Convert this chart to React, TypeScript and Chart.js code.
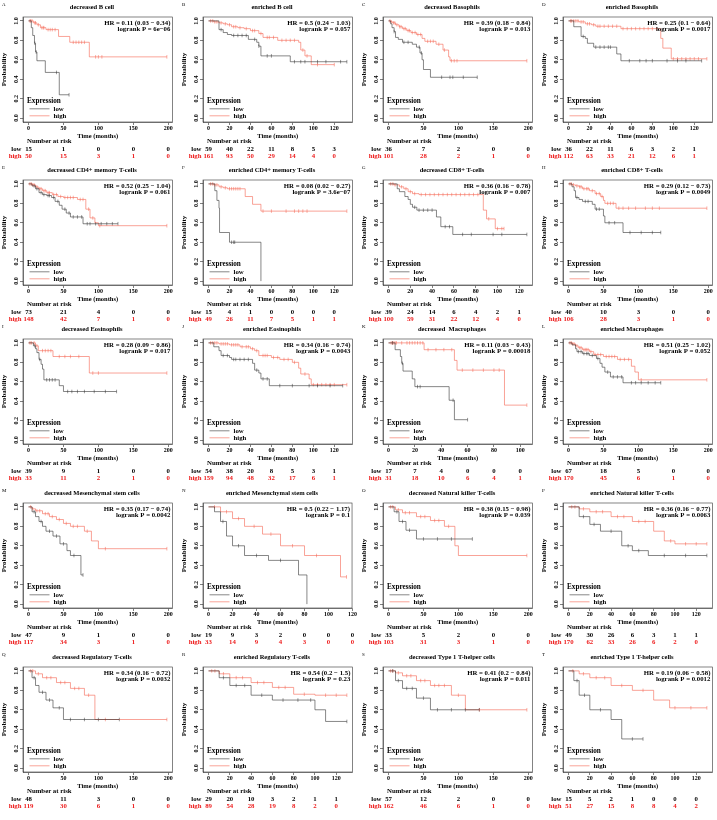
import React, { useEffect, useRef } from "react";
import { Chart, registerables } from "chart.js";
Chart.register(...registerables);

type Pt = [number, number];

// ---------- text ----------
const LETTERS = "ABCDEFGHIJKLMNOPQRST".split("");
const TITLES = [
  "decreased B cell", "enriched B cell", "decreased Basophils", "enriched Basophils",
  "decreased CD4+ memory T-cells", "enriched CD4+ memory T-cells", "decreased CD8+ T-cells", "enriched CD8+ T-cells",
  "decreased Eosinophils", "enriched Eosinophils", "decreased  Macrophages", "enriched Macrophages",
  "decreased Mesenchymal stem cells", "enriched Mesenchymal stem cells", "decreased Natural killer T-cells", "enriched Natural killer T-cells",
  "decreased Regulatory T-cells", "enriched Regulatory T-cells", "decreased Type 1 T-helper cells", "enriched Type 1 T-helper cells",
];
const HR_LABELS = [
  "HR = 0.11 (0.03 − 0.34)", "HR = 0.5 (0.24 − 1.03)", "HR = 0.39 (0.18 − 0.84)", "HR = 0.25 (0.1 − 0.64)",
  "HR = 0.52 (0.25 − 1.04)", "HR = 0.08 (0.02 − 0.27)", "HR = 0.36 (0.16 − 0.78)", "HR = 0.29 (0.12 − 0.73)",
  "HR = 0.28 (0.09 − 0.86)", "HR = 0.34 (0.16 − 0.74)", "HR = 0.11 (0.03 − 0.43)", "HR = 0.51 (0.25 − 1.02)",
  "HR = 0.35 (0.17 − 0.74)", "HR = 0.5 (0.22 − 1.17)", "HR = 0.38 (0.15 − 0.98)", "HR = 0.36 (0.16 − 0.77)",
  "HR = 0.34 (0.16 − 0.72)", "HR = 0.54 (0.2 − 1.5)", "HR = 0.41 (0.2 − 0.84)", "HR = 0.19 (0.06 − 0.58)",
];
const P_LABELS = [
  "logrank P = 6e−06", "logrank P = 0.057", "logrank P = 0.013", "logrank P = 0.0017",
  "logrank P = 0.061", "logrank P = 3.6e−07", "logrank P = 0.007", "logrank P = 0.0049",
  "logrank P = 0.017", "logrank P = 0.0043", "logrank P = 0.00018", "logrank P = 0.052",
  "logrank P = 0.0042", "logrank P = 0.1", "logrank P = 0.039", "logrank P = 0.0063",
  "logrank P = 0.0032", "logrank P = 0.23", "logrank P = 0.011", "logrank P = 0.0012",
];

// ---------- axis ticks ----------
const TICKS_200 = [0, 50, 100, 150, 200];
const TICKS_120 = [0, 20, 40, 60, 80, 100, 120];
const TICKS_100 = [0, 20, 40, 60, 80, 100];
const Y_TICKS = [0, 0.2, 0.4, 0.6, 0.8, 1.0];
const X_TICKS = [
  TICKS_200, TICKS_120, TICKS_200, TICKS_120,
  TICKS_200, TICKS_120, TICKS_120, TICKS_200,
  TICKS_200, TICKS_120, TICKS_100, TICKS_200,
  TICKS_200, TICKS_120, TICKS_200, TICKS_120,
  TICKS_200, TICKS_120, TICKS_200, TICKS_120,
];

// ---------- number at risk ----------
const RISK_LOW = [
  [15, 1, 0, 0, 0], [59, 40, 22, 11, 8, 5, 3], [36, 7, 2, 0, 0], [36, 22, 11, 6, 3, 2, 1],
  [73, 21, 4, 0, 0], [15, 4, 1, 0, 0, 0, 0], [39, 24, 14, 6, 4, 2, 1], [40, 10, 3, 0, 0],
  [39, 9, 1, 0, 0], [54, 38, 20, 8, 5, 3, 1], [17, 7, 4, 0, 0, 0], [67, 18, 5, 0, 0],
  [47, 9, 1, 0, 0], [19, 9, 3, 2, 0, 0, 0], [33, 5, 2, 0, 0], [49, 30, 26, 6, 3, 1, 1],
  [48, 11, 3, 0, 0], [29, 20, 10, 3, 2, 1, 1], [57, 12, 2, 0, 0], [15, 5, 2, 1, 0, 0, 0],
];
const RISK_HIGH = [
  [50, 15, 3, 1, 0], [161, 93, 50, 29, 14, 4, 0], [101, 28, 2, 1, 0], [112, 63, 33, 21, 12, 6, 1],
  [148, 42, 7, 1, 0], [49, 26, 11, 7, 5, 1, 1], [100, 59, 31, 22, 12, 4, 0], [106, 28, 3, 1, 0],
  [33, 11, 2, 1, 0], [159, 94, 48, 32, 17, 6, 1], [31, 18, 10, 6, 4, 1], [170, 45, 6, 1, 0],
  [117, 34, 3, 1, 0], [33, 14, 9, 4, 3, 0, 0], [103, 31, 3, 1, 0], [170, 62, 33, 26, 6, 2, 0],
  [119, 30, 6, 1, 0], [89, 54, 28, 19, 8, 2, 0], [162, 46, 6, 1, 0], [51, 27, 15, 8, 8, 4, 2],
];

// ---------- survival curves (time, survival) and censor times ----------
const A_LOW: Pt[] = [[0, 1], [4, 0.93], [6, 0.85], [8.5, 0.77], [10, 0.68], [12, 0.59], [24, 0.47], [44, 0.24], [58, 0.24]];
const A_LOW_C = [9, 11, 40, 58];
const A_HIGH: Pt[] = [[0, 1], [7, 0.98], [12, 0.96], [17, 0.93], [25, 0.91], [43, 0.84], [59, 0.78], [87, 0.63], [198, 0.63]];
const A_HIGH_C = [2, 3, 5, 9, 10, 14, 19, 21, 22, 28, 31, 34, 38, 64, 68, 72, 76, 80, 96, 100, 105, 198];

const B_LOW: Pt[] = [[0, 1], [10, 0.91], [14, 0.88], [18, 0.86], [22, 0.85], [38, 0.81], [46, 0.78], [48, 0.74], [50, 0.64], [78, 0.58], [132, 0.58]];
const B_LOW_C = [12, 24, 28, 32, 36, 44, 48, 56, 60, 82, 88, 92, 104, 112, 126, 132];
const B_HIGH: Pt[] = [[0, 1], [5, 0.99], [10, 0.98], [14, 0.97], [18, 0.96], [22, 0.94], [28, 0.93], [34, 0.92], [40, 0.9], [48, 0.87], [52, 0.83], [66, 0.8], [86, 0.78], [88, 0.7], [92, 0.64], [98, 0.55], [120, 0.55]];
const B_HIGH_C = [2, 4, 6, 8, 12, 16, 20, 24, 26, 30, 36, 42, 44, 50, 56, 58, 62, 70, 74, 78, 82, 90, 94, 104, 120];

const C_LOW: Pt[] = [[0, 1], [3, 0.97], [5, 0.93], [8, 0.89], [10, 0.83], [14, 0.81], [20, 0.78], [34, 0.76], [40, 0.73], [45, 0.67], [48, 0.6], [50, 0.5], [60, 0.42], [127, 0.42]];
const C_LOW_C = [8, 22, 28, 44, 47, 76, 88, 92, 107, 127];
const C_HIGH: Pt[] = [[0, 1], [3, 0.99], [6, 0.98], [10, 0.96], [15, 0.94], [20, 0.92], [26, 0.9], [32, 0.88], [40, 0.86], [48, 0.82], [52, 0.79], [68, 0.76], [78, 0.7], [86, 0.63], [88, 0.59], [198, 0.59]];
const C_HIGH_C = [2, 4, 7, 9, 12, 16, 18, 22, 24, 28, 30, 34, 38, 42, 46, 56, 60, 64, 72, 80, 90, 94, 98, 198];

const D_LOW: Pt[] = [[0, 1], [5, 0.94], [12, 0.84], [16, 0.82], [18, 0.77], [24, 0.73], [46, 0.66], [50, 0.59], [127, 0.59]];
const D_LOW_C = [14, 26, 30, 34, 38, 40, 58, 68, 74, 80, 94, 104, 112, 127];
const D_HIGH: Pt[] = [[0, 1], [10, 0.99], [16, 0.97], [22, 0.96], [26, 0.945], [50, 0.92], [88, 0.82], [90, 0.72], [98, 0.61], [132, 0.61]];
const D_HIGH_C = [2, 3, 5, 7, 9, 12, 14, 18, 20, 24, 28, 30, 34, 38, 42, 46, 52, 56, 60, 64, 68, 72, 76, 80, 84, 100, 104, 108, 112, 116, 120, 124, 132];

const E_LOW: Pt[] = [[0, 1], [5, 0.98], [10, 0.95], [15, 0.91], [20, 0.89], [26, 0.88], [33, 0.86], [38, 0.82], [44, 0.78], [48, 0.74], [54, 0.7], [60, 0.66], [78, 0.59], [128, 0.59]];
const E_LOW_C = [8, 12, 18, 22, 28, 30, 36, 42, 52, 58, 64, 70, 76, 84, 88, 96, 104, 112, 120, 128];
const E_HIGH: Pt[] = [[0, 1], [5, 0.99], [10, 0.97], [14, 0.95], [20, 0.93], [26, 0.91], [34, 0.89], [42, 0.87], [50, 0.86], [70, 0.84], [82, 0.74], [88, 0.65], [95, 0.6], [100, 0.57], [198, 0.57]];
const E_HIGH_C = [2, 4, 6, 8, 12, 16, 18, 22, 24, 28, 30, 36, 40, 46, 52, 56, 60, 64, 74, 78, 86, 92, 102, 198];

const F_LOW: Pt[] = [[0, 1], [6, 0.93], [8, 0.83], [10, 0.75], [10.5, 0.5], [20, 0.4], [50, 0]];
const F_LOW_C = [22, 24, 25];
const F_HIGH: Pt[] = [[0, 1], [5, 0.99], [10, 0.97], [14, 0.96], [18, 0.95], [35, 0.87], [42, 0.79], [50, 0.72], [132, 0.72]];
const F_HIGH_C = [2, 4, 6, 8, 12, 16, 20, 22, 24, 26, 28, 30, 52, 60, 74, 82, 86, 90, 94, 132];

const G_LOW: Pt[] = [[0, 1], [8, 0.95], [10, 0.92], [15, 0.87], [18, 0.84], [20, 0.79], [22, 0.76], [26, 0.73], [44, 0.66], [48, 0.56], [59, 0.48], [127, 0.48]];
const G_LOW_C = [24, 28, 32, 36, 40, 52, 56, 68, 76, 96, 104, 127];
const G_HIGH: Pt[] = [[0, 1], [5, 0.99], [10, 0.97], [14, 0.95], [18, 0.92], [22, 0.9], [28, 0.89], [87, 0.73], [90, 0.64], [98, 0.54], [106, 0.54]];
const G_HIGH_C = [2, 4, 6, 12, 16, 20, 24, 30, 34, 38, 42, 46, 50, 54, 58, 62, 66, 70, 74, 78, 82, 92, 100, 104, 106];

const H_LOW: Pt[] = [[0, 1], [5, 0.97], [8, 0.93], [10, 0.86], [15, 0.84], [20, 0.82], [34, 0.79], [38, 0.74], [50, 0.67], [52, 0.6], [78, 0.5], [132, 0.5]];
const H_LOW_C = [12, 24, 28, 40, 44, 58, 66, 88, 104, 120, 132];
const H_HIGH: Pt[] = [[0, 1], [5, 0.99], [10, 0.98], [15, 0.97], [20, 0.95], [30, 0.93], [38, 0.9], [46, 0.87], [50, 0.83], [52, 0.8], [68, 0.75], [198, 0.75]];
const H_HIGH_C = [2, 4, 7, 12, 16, 18, 22, 26, 28, 34, 40, 44, 48, 56, 60, 64, 72, 78, 86, 96, 110, 120, 130, 198];

const I_LOW: Pt[] = [[0, 1], [7, 0.97], [10, 0.94], [12, 0.9], [15, 0.83], [18, 0.78], [20, 0.73], [22, 0.62], [44, 0.56], [50, 0.5], [126, 0.5]];
const I_LOW_C = [9, 16, 26, 30, 34, 38, 56, 62, 70, 80, 94, 110, 126];
const I_HIGH: Pt[] = [[0, 1], [10, 0.97], [14, 0.92], [35, 0.86], [87, 0.69], [198, 0.69]];
const I_HIGH_C = [2, 4, 8, 12, 20, 24, 28, 32, 44, 52, 60, 72, 92, 100, 198];

const J_LOW: Pt[] = [[0, 1], [5, 0.96], [10, 0.92], [12, 0.87], [20, 0.85], [22, 0.83], [42, 0.79], [44, 0.72], [48, 0.69], [50, 0.63], [58, 0.56], [128, 0.56]];
const J_LOW_C = [14, 18, 24, 26, 30, 34, 38, 46, 52, 56, 68, 80, 96, 104, 116, 128];
const J_HIGH: Pt[] = [[0, 1], [10, 0.99], [20, 0.98], [30, 0.96], [40, 0.94], [44, 0.92], [48, 0.87], [60, 0.85], [68, 0.83], [80, 0.8], [86, 0.74], [88, 0.68], [96, 0.63], [98, 0.57], [132, 0.57]];
const J_HIGH_C = [2, 4, 6, 8, 12, 14, 16, 18, 22, 24, 26, 28, 32, 36, 38, 42, 46, 52, 54, 56, 62, 66, 72, 76, 82, 92, 100, 104, 108, 112, 116, 120, 132];

const K_LOW: Pt[] = [[0, 1], [5, 0.93], [9, 0.86], [10, 0.79], [11, 0.71], [18, 0.63], [20, 0.55], [46, 0.41], [50, 0.21], [60, 0.21]];
const K_LOW_C = [3, 10.5, 22, 24, 49, 60];
const K_HIGH: Pt[] = [[0, 1], [27, 0.93], [50, 0.82], [52, 0.72], [88, 0.36], [105, 0.36]];
const K_HIGH_C = [2, 3, 4, 5, 6, 10, 14, 16, 18, 20, 22, 24, 26, 30, 36, 42, 48, 56, 64, 72, 80, 84, 105];

const L_LOW: Pt[] = [[0, 1], [5, 0.98], [10, 0.94], [12, 0.91], [20, 0.89], [30, 0.87], [40, 0.84], [45, 0.79], [48, 0.75], [52, 0.7], [60, 0.65], [78, 0.59], [132, 0.59]];
const L_LOW_C = [14, 18, 22, 26, 28, 34, 42, 56, 64, 70, 76, 90, 96, 104, 114, 124, 132];
const L_HIGH: Pt[] = [[0, 1], [5, 0.99], [10, 0.97], [14, 0.95], [20, 0.93], [30, 0.91], [36, 0.88], [50, 0.86], [70, 0.83], [90, 0.76], [95, 0.7], [100, 0.62], [198, 0.62]];
const L_HIGH_C = [2, 4, 6, 8, 12, 16, 18, 22, 24, 26, 28, 32, 38, 42, 46, 54, 58, 62, 66, 74, 80, 86, 104, 198];

const M_LOW: Pt[] = [[0, 1], [5, 0.95], [10, 0.9], [15, 0.85], [20, 0.8], [25, 0.75], [35, 0.7], [45, 0.62], [55, 0.55], [60, 0.5], [75, 0.3], [78, 0.3]];
const M_LOW_C = [8, 18, 30, 40, 50, 65, 78];
const M_HIGH: Pt[] = [[0, 1], [5, 0.98], [10, 0.96], [20, 0.93], [30, 0.9], [40, 0.87], [50, 0.83], [60, 0.8], [80, 0.75], [90, 0.65], [100, 0.57], [198, 0.57]];
const M_HIGH_C = [3, 6, 12, 16, 24, 28, 34, 44, 54, 64, 70, 84, 110, 198];

const N_LOW: Pt[] = [[0, 1], [5, 0.95], [10, 0.85], [15, 0.7], [20, 0.6], [30, 0.5], [50, 0.45], [75, 0.3], [82, 0]];
const N_LOW_C = [12, 25, 40, 60];
const N_HIGH: Pt[] = [[0, 1], [10, 0.95], [20, 0.88], [30, 0.8], [45, 0.72], [60, 0.6], [80, 0.5], [110, 0.28], [115, 0.28]];
const N_HIGH_C = [5, 15, 25, 38, 52, 70, 90, 115];

const O_LOW: Pt[] = [[0, 1], [8, 0.95], [15, 0.85], [25, 0.76], [40, 0.67], [120, 0.67]];
const O_LOW_C = [12, 20, 30, 50, 70, 90, 120];
const O_HIGH: Pt[] = [[0, 1], [10, 0.97], [20, 0.94], [40, 0.9], [60, 0.86], [80, 0.8], [95, 0.6], [100, 0.5], [198, 0.5]];
const O_HIGH_C = [3, 6, 14, 24, 30, 46, 52, 66, 72, 86, 198];

const P_LOW: Pt[] = [[0, 1], [10, 0.9], [20, 0.82], [30, 0.75], [50, 0.6], [60, 0.55], [75, 0.5], [130, 0.5]];
const P_LOW_C = [14, 24, 40, 56, 66, 90, 110, 130];
const P_HIGH: Pt[] = [[0, 1], [10, 0.98], [20, 0.95], [40, 0.9], [60, 0.85], [80, 0.75], [90, 0.65], [100, 0.62], [130, 0.62]];
const P_HIGH_C = [3, 6, 14, 26, 32, 46, 52, 66, 72, 96, 110, 120, 130];

const Q_LOW: Pt[] = [[0, 1], [5, 0.93], [10, 0.85], [15, 0.78], [25, 0.7], [35, 0.62], [50, 0.5], [130, 0.5]];
const Q_LOW_C = [8, 20, 30, 44, 60, 80, 100, 130];
const Q_HIGH: Pt[] = [[0, 1], [10, 0.97], [20, 0.93], [40, 0.88], [60, 0.82], [80, 0.75], [95, 0.5], [198, 0.5]];
const Q_HIGH_C = [3, 6, 14, 26, 32, 46, 52, 66, 72, 86, 110, 198];

const R_LOW: Pt[] = [[0, 1], [10, 0.93], [20, 0.85], [40, 0.75], [60, 0.7], [100, 0.6], [110, 0.48], [130, 0.48]];
const R_LOW_C = [14, 26, 34, 50, 70, 84, 96, 130];
const R_HIGH: Pt[] = [[0, 1], [10, 0.97], [20, 0.93], [40, 0.88], [60, 0.83], [80, 0.76], [100, 0.75], [130, 0.75]];
const R_HIGH_C = [3, 6, 14, 26, 32, 46, 52, 66, 72, 90, 110, 120, 130];

const S_LOW: Pt[] = [[0, 1], [10, 0.9], [20, 0.82], [40, 0.72], [60, 0.6], [130, 0.6]];
const S_LOW_C = [6, 14, 26, 34, 50, 70, 90, 110, 130];
const S_HIGH: Pt[] = [[0, 1], [10, 0.98], [20, 0.95], [40, 0.9], [60, 0.85], [90, 0.75], [110, 0.6], [198, 0.6]];
const S_HIGH_C = [3, 6, 14, 26, 32, 46, 52, 66, 72, 80, 100, 130, 198];

const T_LOW: Pt[] = [[0, 1], [5, 0.9], [10, 0.75], [20, 0.6], [40, 0.5], [50, 0.3], [70, 0.3]];
const T_LOW_C = [8, 15, 30, 60, 70];
const T_HIGH: Pt[] = [[0, 1], [10, 0.97], [20, 0.93], [40, 0.85], [60, 0.8], [80, 0.7], [95, 0.62], [130, 0.62]];
const T_HIGH_C = [4, 14, 26, 34, 50, 70, 100, 115, 130];

const LOW_CURVES = [A_LOW, B_LOW, C_LOW, D_LOW, E_LOW, F_LOW, G_LOW, H_LOW, I_LOW, J_LOW, K_LOW, L_LOW, M_LOW, N_LOW, O_LOW, P_LOW, Q_LOW, R_LOW, S_LOW, T_LOW];
const LOW_CENS = [A_LOW_C, B_LOW_C, C_LOW_C, D_LOW_C, E_LOW_C, F_LOW_C, G_LOW_C, H_LOW_C, I_LOW_C, J_LOW_C, K_LOW_C, L_LOW_C, M_LOW_C, N_LOW_C, O_LOW_C, P_LOW_C, Q_LOW_C, R_LOW_C, S_LOW_C, T_LOW_C];
const HIGH_CURVES = [A_HIGH, B_HIGH, C_HIGH, D_HIGH, E_HIGH, F_HIGH, G_HIGH, H_HIGH, I_HIGH, J_HIGH, K_HIGH, L_HIGH, M_HIGH, N_HIGH, O_HIGH, P_HIGH, Q_HIGH, R_HIGH, S_HIGH, T_HIGH];
const HIGH_CENS = [A_HIGH_C, B_HIGH_C, C_HIGH_C, D_HIGH_C, E_HIGH_C, F_HIGH_C, G_HIGH_C, H_HIGH_C, I_HIGH_C, J_HIGH_C, K_HIGH_C, L_HIGH_C, M_HIGH_C, N_HIGH_C, O_HIGH_C, P_HIGH_C, Q_HIGH_C, R_HIGH_C, S_HIGH_C, T_HIGH_C];

// ---------- layout / style ----------
const COL_X = [0, 180, 360, 540];
const ROW_Y = [0, 163, 322, 486, 650];
const PANEL_W = 177;
const PANEL_H = 164;
const LOW_COLOR = "rgba(40,40,40,0.8)";
const HIGH_COLOR = "rgba(245,90,70,0.8)";
const RISK_RED = "#ee1c1c";
const SERIF = "'Liberation Serif', 'Times New Roman', serif";
const f = (size: number, bold = true) => `${bold ? "bold " : ""}${size}px ${SERIF}`;

function survAt(c: Pt[], t: number) {
  let s = 1;
  for (const [x, y] of c) if (x <= t) s = y;
  return s;
}

function KMPanel({ i }: { i: number }) {
  const ref = useRef<HTMLCanvasElement | null>(null);
  useEffect(() => {
    const canvas = ref.current!;
    const low = LOW_CURVES[i];
    const high = HIGH_CURVES[i];
    const lowC = LOW_CENS[i];
    const highC = HIGH_CENS[i];
    const ticks = X_TICKS[i];
    const xMax = Math.max(low[low.length - 1][0], high[high.length - 1][0], ...lowC, ...highC);

    const decor = {
      id: "kmDecor" + i,
      afterDraw(chart: any) {
        const ctx = chart.ctx as CanvasRenderingContext2D;
        const a = chart.chartArea;
        const xs = chart.scales.x;
        ctx.save();
        ctx.strokeStyle = "#333";
        ctx.lineWidth = 0.6;
        ctx.strokeRect(a.left, a.top, a.right - a.left, a.bottom - a.top);
        ctx.fillStyle = "#000";
        ctx.font = `5px ${SERIF}`;
        ctx.textAlign = "left";
        ctx.textBaseline = "middle";
        ctx.fillText(LETTERS[i], 2, 4.5);
        ctx.font = f(6.5);
        ctx.textAlign = "center";
        ctx.fillText(TITLES[i], 92, 7);
        ctx.font = f(6.8);
        ctx.textAlign = "right";
        ctx.fillText(HR_LABELS[i], a.right - 2, a.top + 6);
        ctx.fillText(P_LABELS[i], a.right - 2, a.top + 12.5);
        ctx.textAlign = "left";
        ctx.font = f(7.2);
        ctx.fillText("Expression", a.left + 4, a.bottom - 20.5);
        ctx.font = f(6.8);
        const entries: [string, string, number][] = [
          ["low", LOW_COLOR, a.bottom - 13.2],
          ["high", HIGH_COLOR, a.bottom - 6.2],
        ];
        for (const [lab, col, y] of entries) {
          ctx.strokeStyle = col;
          ctx.lineWidth = 0.7;
          ctx.beginPath();
          ctx.moveTo(a.left + 6.5, y);
          ctx.lineTo(a.left + 26.5, y);
          ctx.stroke();
          ctx.fillStyle = "#000";
          ctx.fillText(lab, a.left + 30.5, y);
        }
        ctx.font = f(6.8);
        ctx.fillStyle = "#000";
        ctx.fillText("Number at risk", a.left + 4, a.bottom + 19.5);
        const rows: [string, number[], string, number][] = [
          ["low", RISK_LOW[i], "#000", a.bottom + 26.8],
          ["high", RISK_HIGH[i], RISK_RED, a.bottom + 33.8],
        ];
        for (const [lab, vals, col, y] of rows) {
          ctx.fillStyle = col;
          ctx.textAlign = "right";
          ctx.fillText(lab, 21.5, y);
          ctx.textAlign = "center";
          vals.forEach((v, k) => {
            ctx.fillText(String(v), xs.getPixelForValue(ticks[k]), y);
          });
        }
        ctx.restore();
      },
    };

    const censorSet = (c: Pt[], times: number[], color: string) => ({
      data: times.map((t) => ({ x: t, y: survAt(c, t) })),
      showLine: false,
      pointStyle: "line",
      rotation: 90,
      pointRadius: 1.8,
      pointBorderWidth: 0.6,
      borderColor: color,
      backgroundColor: color,
      pointBorderColor: color,
    });

    const chart = new Chart(canvas, {
      type: "line",
      data: {
        datasets: [
          { label: "low", data: low.map(([x, y]) => ({ x, y })), borderColor: LOW_COLOR, borderWidth: 0.7, stepped: "before", pointRadius: 0, fill: false } as any,
          { label: "high", data: high.map(([x, y]) => ({ x, y })), borderColor: HIGH_COLOR, borderWidth: 0.7, stepped: "before", pointRadius: 0, fill: false } as any,
          censorSet(low, lowC, LOW_COLOR) as any,
          censorSet(high, highC, HIGH_COLOR) as any,
        ],
      },
      options: {
        animation: false,
        responsive: false,
        events: [],
        layout: { padding: { left: 0, top: 17, right: 2, bottom: 24 } },
        plugins: { legend: { display: false }, tooltip: { enabled: false } },
        scales: {
          x: {
            type: "linear",
            min: -0.04 * xMax,
            max: 1.04 * xMax,
            afterBuildTicks: (s: any) => { s.ticks = ticks.map((v) => ({ value: v })); },
            afterFit: (s: any) => { s.height = 18; },
            ticks: { font: { family: SERIF, size: 6, weight: "bold" }, color: "#000", padding: 0, maxRotation: 0, autoSkip: false },
            grid: { drawOnChartArea: false, drawTicks: true, tickLength: 3, color: "#000", lineWidth: 0.5 },
            border: { display: true, color: "#333", width: 0.6 },
            title: { display: true, text: "Time (months)", color: "#000", font: { family: SERIF, size: 6.5, weight: "bold" }, padding: 0 },
          },
          y: {
            type: "linear",
            min: -0.04,
            max: 1.04,
            afterBuildTicks: (s: any) => { s.ticks = Y_TICKS.map((v) => ({ value: v })); },
            afterFit: (s: any) => { s.width = 23; },
            ticks: { font: { family: SERIF, size: 6, weight: "bold" }, color: "#000", padding: 0, minRotation: 90, maxRotation: 90, crossAlign: "center", callback: (v: any) => Number(v).toFixed(1) },
            grid: { drawOnChartArea: false, drawTicks: true, tickLength: 3, color: "#000", lineWidth: 0.5 },
            border: { display: true, color: "#333", width: 0.6 },
            title: { display: true, text: "Probability", color: "#000", font: { family: SERIF, size: 7, weight: "bold" }, padding: 0 },
          },
        },
      } as any,
      plugins: [decor],
    });
    return () => chart.destroy();
  }, [i]);

  return (
    <canvas
      ref={ref}
      width={PANEL_W}
      height={PANEL_H}
      style={{ position: "absolute", left: COL_X[i % 4], top: ROW_Y[Math.floor(i / 4)], width: PANEL_W, height: PANEL_H }}
    />
  );
}

export default function App() {
  return (
    <div style={{ position: "absolute", left: 0, top: 0, width: 717, height: 820, background: "#fff", overflow: "hidden" }}>
      {LETTERS.map((_, i) => (
        <KMPanel key={i} i={i} />
      ))}
    </div>
  );
}
